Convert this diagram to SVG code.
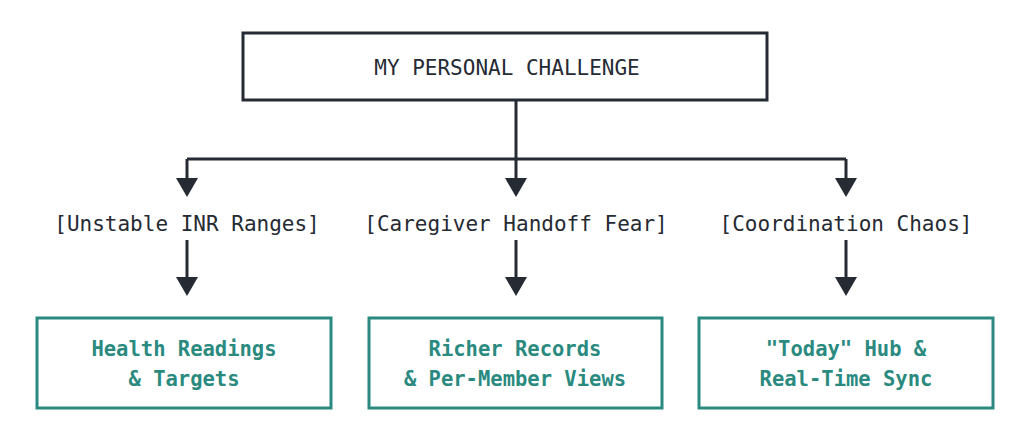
<svg xmlns="http://www.w3.org/2000/svg" width="1024" height="439" viewBox="0 0 1024 439">
<style>
text{font-family:"DejaVu Sans Mono","Liberation Mono",monospace;text-anchor:middle}
.top{fill:#fff;stroke:#252a33;stroke-width:3}
.t{fill:#252a33;font-size:21px}
.lbl{fill:#252a33;font-size:21px}
.b{fill:#fff;stroke:#2a8a80;stroke-width:3}
.bt{fill:#2a8a80;font-size:20.5px;font-weight:bold}
.c{fill:none;stroke:#252a33;stroke-width:3}
</style>
<rect width="1024" height="439" fill="#fff"/>
<g id="connectors">
<path class="c" d="M516,100V180"/>
<path class="c" d="M187,159H846"/>
<path d="M176,178H198L187,197z M505,178H527L516,197z M835,178H857L846,197z" fill="#252a33"/>
<path class="c" d="M187,159V180 M846,159V180"/>
<path class="c" d="M187,240V278 M516,240V278 M846,240V278"/>
<path d="M176,277H198L187,296z M505,277H527L516,296z M835,277H857L846,296z" fill="#252a33"/>
</g>
<g id="top"><rect class="top" x="243" y="33" width="524" height="67"/><text class="t" x="507" y="75">MY PERSONAL CHALLENGE</text></g>
<g id="l1"><text class="lbl" x="187" y="231">[Unstable INR Ranges]</text></g>
<g id="l2"><text class="lbl" x="516" y="231">[Caregiver Handoff Fear]</text></g>
<g id="l3"><text class="lbl" x="846" y="231">[Coordination Chaos]</text></g>
<g id="b1"><rect class="b" x="37" y="318" width="294" height="90"/><text class="bt" x="184" y="356">Health Readings</text><text class="bt" x="184" y="386">&amp; Targets</text></g>
<g id="b2"><rect class="b" x="369" y="318" width="293" height="90"/><text class="bt" x="515" y="356">Richer Records</text><text class="bt" x="515" y="386">&amp; Per-Member Views</text></g>
<g id="b3"><rect class="b" x="699" y="318" width="294" height="90"/><text class="bt" x="846" y="356">"Today" Hub &amp;</text><text class="bt" x="846" y="386">Real-Time Sync</text></g>
</svg>
